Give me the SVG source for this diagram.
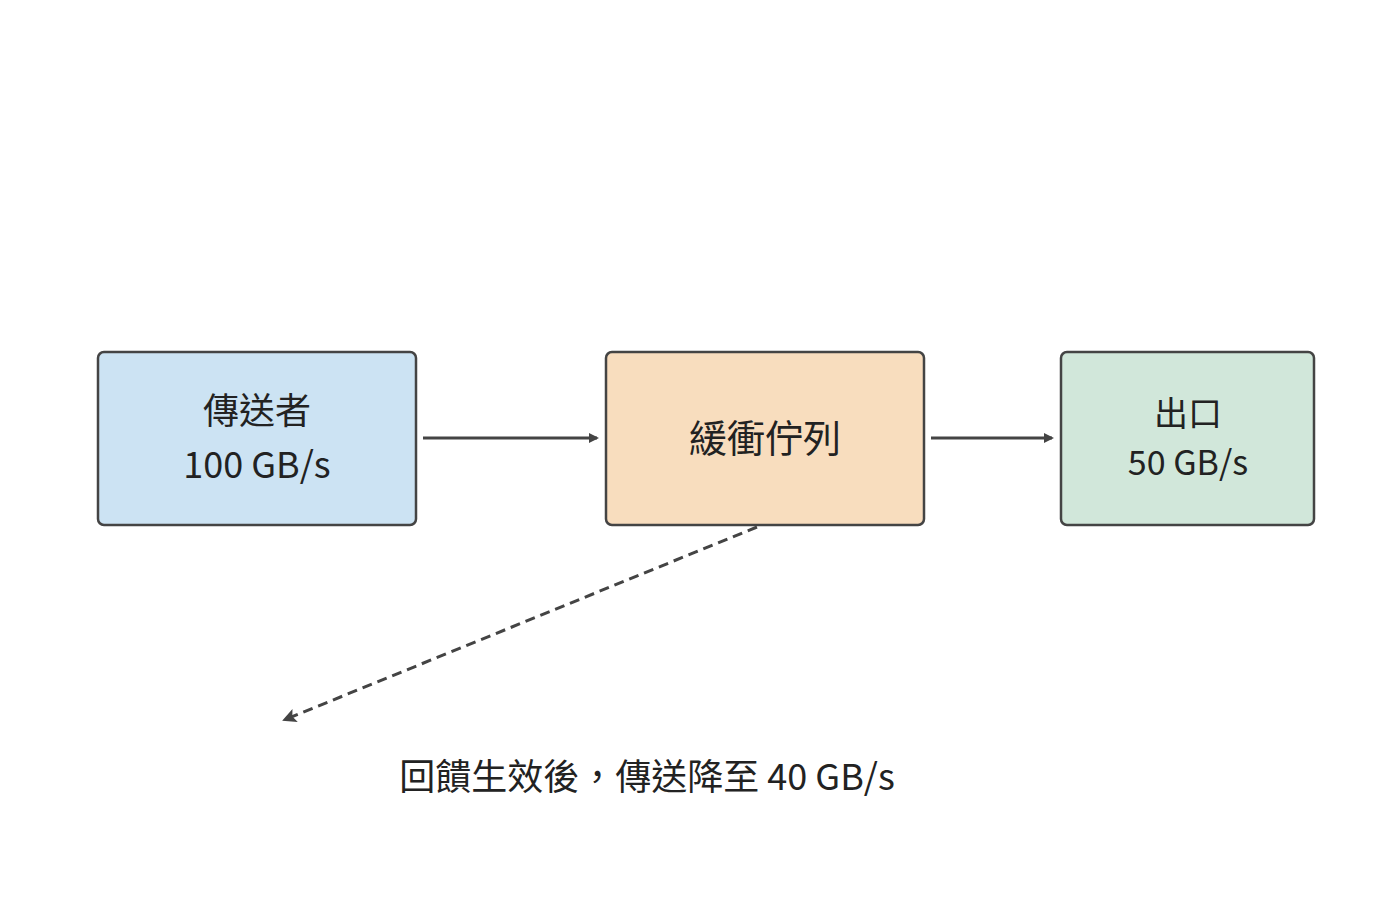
<svg xmlns="http://www.w3.org/2000/svg" width="1400" height="912" viewBox="0 0 1400 912">
<style>
.box{stroke:#444;stroke-width:2.5}
.t{font-family:"Noto Sans CJK TC","Noto Sans",sans-serif;fill:#222;text-anchor:middle}
.c{stroke:#444;stroke-width:3;fill:none}
</style>
<defs><marker id="a" markerWidth="10" markerHeight="10" refX="8" refY="5" orient="auto" markerUnits="userSpaceOnUse"><path d="M0,0 L10,5 L0,10 Z" fill="#444"/></marker>
<marker id="b" markerWidth="14" markerHeight="14" refX="12" refY="7" orient="auto" markerUnits="userSpaceOnUse"><path d="M0,0 L14,7 L0,14 L3,7 Z" fill="#444"/></marker></defs>
<rect width="1400" height="912" fill="#fff"/>
<g id="sender"><rect class="box" x="98" y="352" width="318" height="173" rx="6" fill="#cce3f3"/>
<text class="t" x="257" y="424" font-size="36">傳送者</text><text class="t" x="257" y="478" font-size="36">100 GB/s</text></g>
<g id="buffer"><rect class="box" x="606" y="352" width="318" height="173" rx="6" fill="#f8ddbe"/>
<text class="t" x="765" y="452" font-size="38">緩衝佇列</text></g>
<g id="exit"><rect class="box" x="1061" y="352" width="253" height="173" rx="6" fill="#d1e7da"/>
<text class="t" x="1188" y="426" font-size="34">出口</text><text class="t" x="1188" y="475" font-size="34">50 GB/s</text></g>
<g id="connectors">
<line class="c" x1="423" y1="438" x2="597" y2="438" marker-end="url(#a)"/>
<line class="c" x1="931" y1="438" x2="1052" y2="438" marker-end="url(#a)"/>
<line class="c" x1="757" y1="527" x2="284" y2="720" stroke-dasharray="10,6" marker-end="url(#b)"/>
</g>
<text class="t" x="647" y="790" font-size="36">回饋生效後，傳送降至 40 GB/s</text>
</svg>
